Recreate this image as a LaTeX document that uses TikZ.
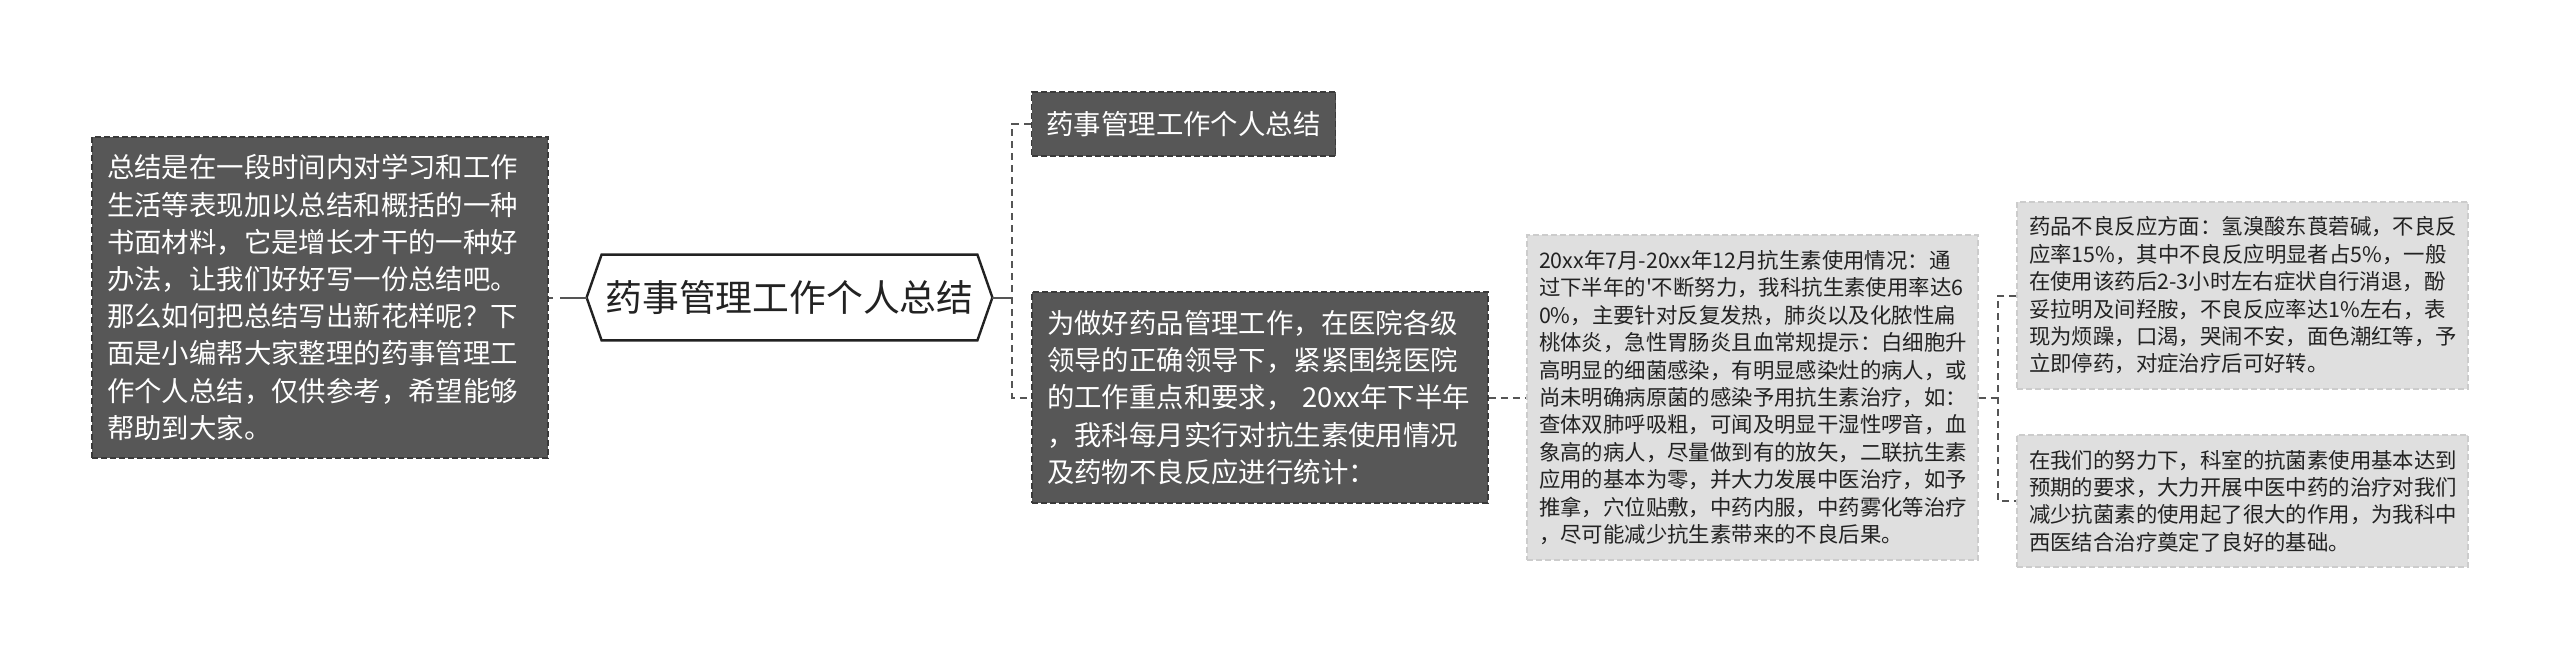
\documentclass[tikz,border=0pt]{standalone}
\usepackage{fontspec}
\setmainfont{Noto Sans CJK SC}
\newfontfamily\cjkplain{Noto Sans CJK SC}
\definecolor{darkfill}{HTML}{575757}
\definecolor{darkedge}{HTML}{3A3A3A}
\definecolor{lightfill}{HTML}{DFDFDF}
\definecolor{lightedge}{HTML}{CCCCCC}
\definecolor{linec}{HTML}{555555}
\definecolor{hexc}{HTML}{222222}
\tikzset{
  darkbox/.style={draw=darkedge, fill=darkfill, text=white, line width=0.75pt,
    dash pattern=on 3pt off 1.5pt, inner xsep=7.5pt, inner ysep=0pt, align=left,
    font=\cjkplain\fontsize{13.7pt}{18.6pt}\selectfont},
  lightbox/.style={draw=lightedge, fill=lightfill, text=hexc, line width=0.75pt,
    dash pattern=on 3pt off 1.5pt, inner xsep=6pt, inner ysep=0pt, align=left,
    font=\cjkplain\fontsize{10.7pt}{13.7pt}\selectfont},
  hextext/.style={inner sep=0pt, text=hexc, font=\cjkplain\fontsize{18.4pt}{22pt}\selectfont},
  hexline/.style={draw=hexc, line width=1.2pt, line join=miter},
  conn/.style={draw=linec, line width=1pt, dash pattern=on 3.5pt off 2.5pt},
  solidconn/.style={draw=linec, line width=1pt},
}
\begin{document}
\begin{tikzpicture}[x=0.5pt, y=-0.5pt]
\useasboundingbox (0,0) rectangle (2560,659);
% left description box
\node[darkbox, text width=213pt, minimum height=160.5pt] (lbox) at (320,297.5) {%
总结是在一段时间内对学习和工作\\
生活等表现加以总结和概括的一种\\
书面材料，它是增长才干的一种好\\
办法，让我们好好写一份总结吧。\\
那么如何把总结写出新花样呢？下\\
面是小编帮大家整理的药事管理工\\
作个人总结，仅供参考，希望能够\\
帮助到大家。};
% central hexagon
\node[hextext, minimum width=187.5pt, minimum height=42.5pt] (hex) at (789.5,297.5) {药事管理工作个人总结};
\coordinate (hexL) at ([xshift=-7.5pt]hex.west);
\coordinate (hexR) at ([xshift=7.5pt]hex.east);
\draw[hexline, fill=white] (hex.north west) -- (hex.north east) -- (hexR) -- (hex.south east) -- (hex.south west) -- (hexL) -- cycle;
\node[hextext, minimum width=187.5pt, minimum height=42.5pt] at (hex.center) {药事管理工作个人总结};
% first level right
\node[darkbox, minimum width=151.5pt, minimum height=32pt, align=center] (b1) at (1183.5,124) {药事管理工作个人总结};
\node[darkbox, text width=213pt, minimum height=105.5pt] (b2) at (1260,397.5) {%
为做好药品管理工作，在医院各级\\
领导的正确领导下，紧紧围绕医院\\
的工作重点和要求， 20xx年下半年\\
，我科每月实行对抗生素使用情况\\
及药物不良反应进行统计：};
% second level
\node[lightbox, text width=213.5pt, minimum height=162.5pt] (b3) at (1752.5,397.5) {%
20xx年7月-20xx年12月抗生素使用情况：通\\
过下半年的'不断努力，我科抗生素使用率达6\\
0\%，主要针对反复发热，肺炎以及化脓性扁\\
桃体炎，急性胃肠炎且血常规提示：白细胞升\\
高明显的细菌感染，有明显感染灶的病人，或\\
尚未明确病原菌的感染予用抗生素治疗，如：\\
查体双肺呼吸粗，可闻及明显干湿性啰音，血\\
象高的病人，尽量做到有的放矢，二联抗生素\\
应用的基本为零，并大力发展中医治疗，如予\\
推拿，穴位贴敷，中药内服，中药雾化等治疗\\
，尽可能减少抗生素带来的不良后果。};
% third level
\node[lightbox, text width=213.5pt, minimum height=93.5pt] (b4) at (2242.5,295.5) {%
药品不良反应方面：氢溴酸东莨菪碱，不良反\\
应率15\%，其中不良反应明显者占5\%，一般\\
在使用该药后2-3小时左右症状自行消退，酚\\
妥拉明及间羟胺，不良反应率达1\%左右，表\\
现为烦躁，口渴，哭闹不安，面色潮红等，予\\
立即停药，对症治疗后可好转。};
\node[lightbox, text width=213.5pt, minimum height=66pt] (b5) at (2242.5,501) {%
在我们的努力下，科室的抗菌素使用基本达到\\
预期的要求，大力开展中医中药的治疗对我们\\
减少抗菌素的使用起了很大的作用，为我科中\\
西医结合治疗奠定了良好的基础。};
% connectors
\draw[solidconn, dash pattern=on 13.5pt off 3.5pt] (hexL) -- (lbox.east);
\coordinate (j1) at (1012,297.5);
\draw[solidconn] (hexR) -- (j1);
\draw[conn] (b1.west) -- (b1.west -| j1) -- (b2.west -| j1) -- (b2.west);
\draw[conn] (b2.east) -- (b3.west);
\coordinate (j2) at (1998,397.5);
\draw[conn] (b3.east) -- (j2);
\draw[conn] (b4.west) -- (b4.west -| j2) -- (b5.west -| j2) -- (b5.west);
\end{tikzpicture}
\end{document}
